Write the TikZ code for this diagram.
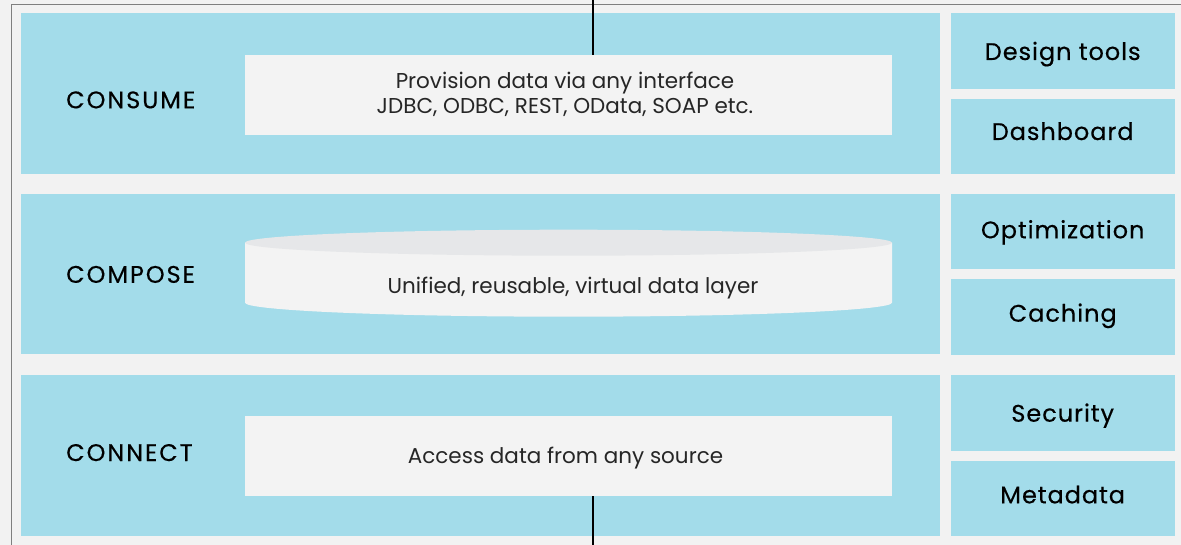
\documentclass[tikz,border=0pt]{standalone}
\usepackage{fontspec}
\setmainfont{Poppins}
\newfontfamily\labfont[LetterSpace=4,FakeBold=0.35]{Poppins}
\newfontfamily\caplabfont[LetterSpace=8,FakeBold=0.35]{Poppins}
\usetikzlibrary{positioning}
\definecolor{bandblue}{HTML}{A3DCEA}
\definecolor{paper}{HTML}{F2F2F2}
\definecolor{boxwhite}{HTML}{F3F3F3}
\definecolor{cyltop}{HTML}{E6E7E9}
\definecolor{framegray}{HTML}{7F7F7F}
\definecolor{txt}{HTML}{262626}
\begin{document}
\begin{tikzpicture}[x=1pt,y=-1pt,
  band/.style={fill=bandblue,draw=none,anchor=north west,inner sep=0pt,minimum width=919.5pt,minimum height=160.5pt},
  sidebox/.style={fill=bandblue,draw=none,anchor=north west,inner sep=0pt,minimum width=224pt,minimum height=75.5pt},
  sidetext/.style={anchor=base,inner sep=0pt,font=\labfont\fontsize{24}{26}\selectfont,text=black},
  innerbox/.style={fill=boxwhite,draw=none,anchor=north west,inner sep=0pt,minimum width=647pt,minimum height=80pt},
  bodytext/.style={anchor=base,inner sep=0pt,font=\fontsize{21.5}{25}\selectfont,text=txt},
  layerlabel/.style={anchor=base west,inner sep=0pt,font=\caplabfont\fontsize{24}{26}\selectfont,text=black},
  spine/.style={draw=black,line width=2.2pt}
]
\useasboundingbox (0,0) rectangle (1181,545);
\fill[paper] (0,0) rectangle (1181,545);
\draw[framegray,line width=1.2pt] (11.5,545) -- (11.5,4.5) -- (1181,4.5);

% bands
\node[band] (consume) at (20.7,13) {};
\node[band] (compose) at (20.7,193.7) {};
\node[band] (connect) at (20.7,375) {};

% side boxes
\node[sidebox] (design) at (950.7,13) {};
\node[sidebox] (dash) at (950.7,98.5) {};
\node[sidebox] (optim) at (950.7,193.7) {};
\node[sidebox] (cach) at (950.7,279) {};
\node[sidebox] (secu) at (950.7,375) {};
\node[sidebox] (meta) at (950.7,460.7) {};
\node[sidetext] (tdesign) at (1062.7,60) {Design tools};
\node[sidetext] (tdash) at (1062.7,140) {Dashboard};
\node[sidetext] (toptim) at (1062.7,238.3) {Optimization};
\node[sidetext] (tcach) at (1062.7,321.7) {Caching};
\node[sidetext] (tsecu) at (1062.7,421.7) {Security};
\node[sidetext] (tmeta) at (1062.7,503.3) {Metadata};

% labels
\node[layerlabel] (lconsume) at (66,108.3) {CONSUME};
\node[layerlabel] (lcompose) at (66,282.8) {COMPOSE};
\node[layerlabel] (lconnect) at (66,461) {CONNECT};

% inner boxes
\node[innerbox] (provision) at (245,54.7) {};
\node[innerbox] (access) at (245,415.7) {};
\node[bodytext] (tprov1) at (565,88.3) {Provision data via any interface};
\node[bodytext] (tprov2) at (565,113.3) {JDBC, ODBC, REST, OData, SOAP etc.};
\node[bodytext] (taccess) at (565.5,463.3) {Access data from any source};

% cylinder
\fill[boxwhite] (245,242.7) -- (245,302.7) arc[start angle=180,end angle=360,x radius=323.5pt,y radius=14pt] -- (892,242.7) -- cycle;
\fill[cyltop] (568.5,242.7) ellipse[x radius=323.5pt,y radius=13pt];
\node[bodytext] (layer) at (573,293.3) {Unified, reusable, virtual data layer};

% spine
\coordinate (topend) at (592.7,0);
\coordinate (botend) at (592.7,545);
\draw[spine] (topend) -- (topend |- provision.north);
\draw[spine] (access.south -| botend) -- (botend);
\end{tikzpicture}
\end{document}
